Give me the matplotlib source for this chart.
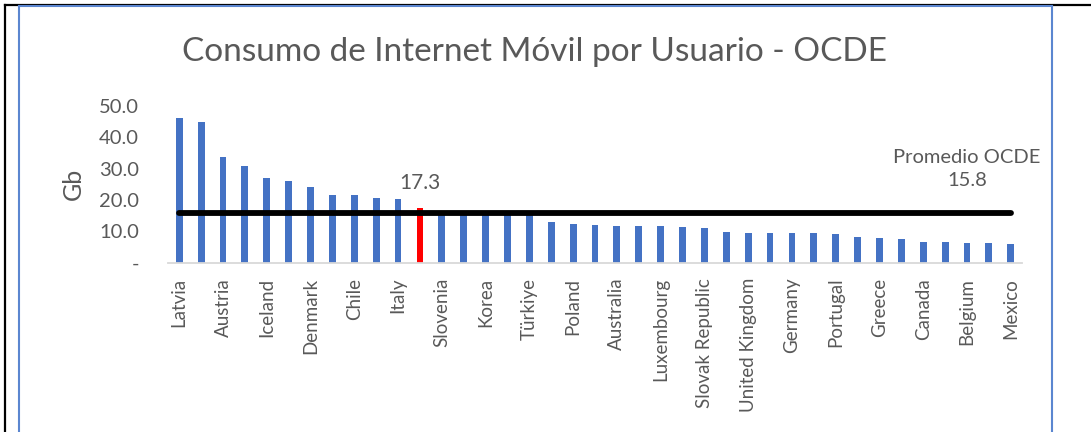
#!/usr/bin/env python3
"""
Consumo de Internet Móvil por Usuario - OCDE
Gráfico de barras con la línea del promedio OCDE.
"""

import matplotlib
matplotlib.use('Agg')
import matplotlib.pyplot as plt
from matplotlib.lines import Line2D

# ============ datos ============
countries = [
    'Latvia', 'Finland', 'Austria', 'Lithuania', 'Iceland', 'Estonia',
    'Denmark', 'Sweden', 'Chile', 'Japan', 'Italy', 'Argentina',
    'Slovenia', 'Israel', 'Korea', 'France', 'Türkiye', 'United States',
    'Poland', 'Ireland', 'Australia', 'Netherlands', 'Luxembourg',
    'Switzerland', 'Slovak Republic', 'Norway', 'United Kingdom',
    'Czech Republic', 'Germany', 'New Zealand', 'Portugal', 'Hungary',
    'Greece', 'Spain', 'Canada', 'Costa Rica', 'Belgium', 'Colombia',
    'Mexico',
]
gb_per_user = [
    46.3, 44.8, 33.6, 30.7, 26.9, 26.0,
    24.1, 21.6, 21.6, 20.6, 20.3, 17.3,
    16.4, 16.2, 16.0, 15.8, 15.6, 12.8,
    12.3, 12.1, 11.7, 11.6, 11.6,
    11.3, 11.1, 9.6, 9.4,
    9.4, 9.3, 9.3, 9.1, 8.1,
    7.9, 7.4, 6.7, 6.5, 6.3, 6.2,
    5.9,
]
highlight = 'Argentina'
oecd_avg = 15.8
y_ticks = [0, 10, 20, 30, 40, 50]
y_labels = ['-', '10.0', '20.0', '30.0', '40.0', '50.0']

# ============ estilo ============
W, H = 1091, 432
BLUE = '#4472C4'
RED = '#FF0000'
GREY = '#595959'
plt.rcParams['font.family'] = ['Lato', 'DejaVu Sans']


def px(x, y):
    """píxeles (desde arriba a la izquierda) -> fracción de figura"""
    return x / W, 1 - y / H


fig = plt.figure(figsize=(W / 100, H / 100), dpi=100)

# marco exterior (negro) y marco del gráfico (azul)
fig.add_artist(Line2D([px(5, 0)[0], px(5, 0)[0]], [0, px(0, 5)[1]],
                      color='black', lw=1.6))
fig.add_artist(Line2D([px(5, 0)[0], 1], [px(0, 5)[1], px(0, 5)[1]],
                      color='black', lw=1.6))
for xx in (18.5, 1051.5):
    fig.add_artist(Line2D([xx / W, xx / W], [0, px(0, 6)[1]],
                          color='#5B86D0', lw=1.5))
fig.add_artist(Line2D([18.5 / W, 1051.5 / W], [px(0, 6)[1], px(0, 6)[1]],
                      color='#5B86D0', lw=1.5))

# ejes
left, right = 168.3, 1021.7
top, bottom = 106, 262.5
ax = fig.add_axes([left / W, 1 - bottom / H, (right - left) / W, (bottom - top) / H])

x = list(range(len(countries)))
colors = [RED if c == highlight else BLUE for c in countries]
ax.bar(x, gb_per_user, width=0.31, color=colors, zorder=2)

# línea del promedio
ax.plot([x[0], x[-1]], [oecd_avg, oecd_avg], color='black', lw=4.2,
        solid_capstyle='round', zorder=3)

# etiqueta de la barra destacada
hi = countries.index(highlight)
ax.annotate(f'{gb_per_user[hi]:.1f}', (hi, gb_per_user[hi]),
            xytext=(0, 11), textcoords='offset points',
            ha='center', va='bottom', fontsize=15, color=GREY)
ax.annotate(f'Promedio OCDE\n{oecd_avg:.1f}', (36.0, oecd_avg),
            xytext=(0, 17), textcoords='offset points',
            ha='center', va='bottom', fontsize=14.5, color=GREY,
            linespacing=1.45)

ax.set_xlim(-0.5, len(countries) - 0.5)
ax.set_ylim(0, 50)
ax.set_xticks(x[::2])
ax.set_xticklabels(countries[::2], rotation=90, fontsize=13.5, color=GREY)
ax.set_yticks(y_ticks)
ax.set_yticklabels(y_labels, fontsize=14.5, color=GREY)
ax.tick_params(axis='both', length=0)
ax.tick_params(axis='x', pad=11)
ax.tick_params(axis='y', pad=21)
ax.set_ylabel('Gb', fontsize=18, color=GREY, labelpad=10)

for side in ('top', 'right', 'left'):
    ax.spines[side].set_visible(False)
ax.spines['bottom'].set_color('#D9D9D9')
ax.spines['bottom'].set_linewidth(1.3)

fig.text(px(534, 0)[0], px(0, 52)[1], 'Consumo de Internet Móvil por Usuario - OCDE',
         ha='center', va='center', fontsize=24, color=GREY)

fig.savefig('out.png', dpi=100)
